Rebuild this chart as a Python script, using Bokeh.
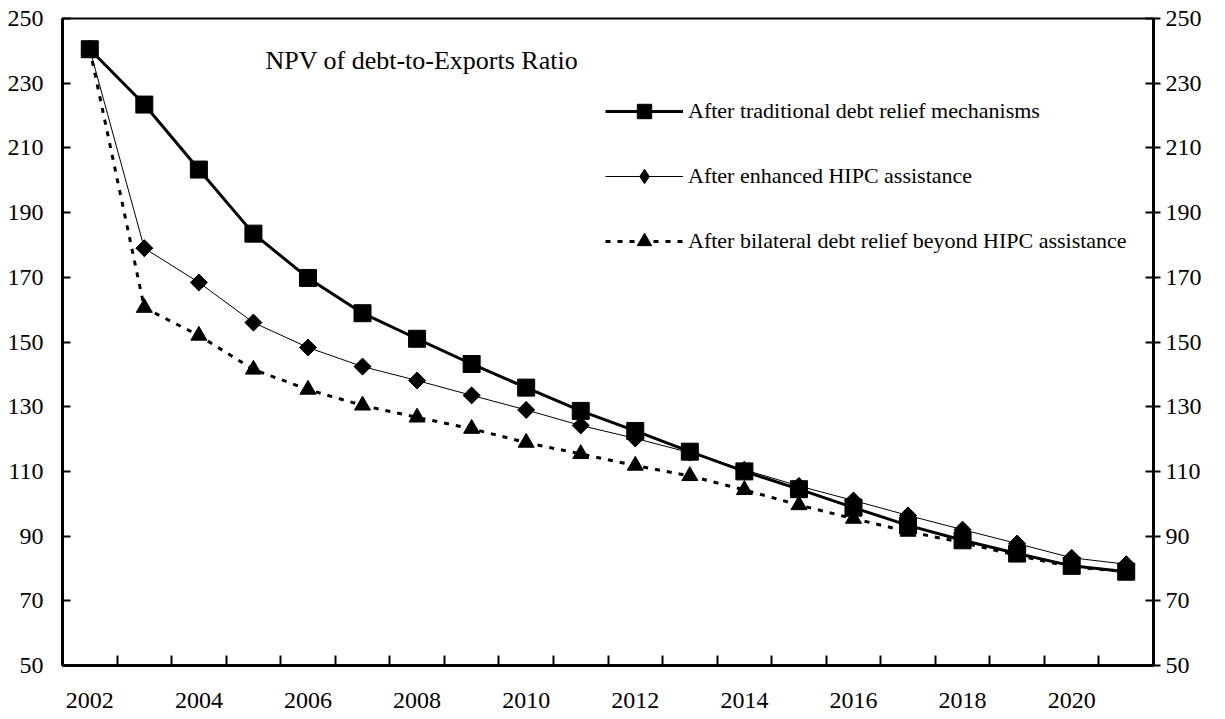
import math
from bokeh.plotting import figure
from bokeh.models import (Range1d, LinearAxis, FixedTicker, Legend, LegendItem,
                          Label, BasicTickFormatter)
from bokeh.embed import file_html
from bokeh.resources import INLINE

years = list(range(2002, 2022))
traditional = [240.5, 223.4, 203.3, 183.5, 169.8, 158.9, 151.0, 143.2, 135.9, 128.7,
               122.5, 116.1, 110.0, 104.5, 98.8, 93.3, 88.7, 84.6, 80.8, 79.0]
enhanced = [240.5, 179.0, 168.4, 156.0, 148.3, 142.4, 138.1, 133.5, 129.0, 124.2,
            120.2, 115.8, 110.5, 105.5, 101.0, 96.4, 92.0, 87.7, 83.3, 81.3]
bilateral = [240.5, 160.6, 152.0, 141.5, 135.3, 130.4, 126.7, 123.2, 118.9, 115.4,
             111.8, 108.6, 104.3, 99.6, 95.4, 91.4, 88.0, 84.0, 80.5, 79.0]

labels = ["After traditional debt relief mechanisms",
          "After enhanced HIPC assistance",
          "After bilateral debt relief beyond HIPC assistance"]
y_ticks = list(range(50, 251, 20))
x_label_years = list(range(2002, 2021, 2))
x_boundaries = [y + 0.5 for y in range(2002, 2021)]
chart_title = "NPV of debt-to-Exports Ratio"

FONT = "'Liberation Serif', 'Times New Roman', serif"

# frame spans page x 62..1153, y 18..665
p = figure(width=1225, height=719, output_backend="svg", toolbar_location=None,
           x_axis_type=None, y_axis_type=None,
           x_range=Range1d(2001.5, 2021.5), y_range=Range1d(50, 250),
           min_border_left=62, min_border_right=72, min_border_top=18,
           min_border_bottom=54)
p.extra_y_ranges = {"right": Range1d(50, 250)}
p.outline_line_color = "black"
p.outline_line_width = 2
p.background_fill_color = "white"
p.border_fill_color = "white"

# bottom axis
xa = LinearAxis(ticker=FixedTicker(ticks=x_label_years, minor_ticks=x_boundaries),
                formatter=BasicTickFormatter(use_scientific=False))
xa.axis_line_width = 3
xa.major_tick_in = 0
xa.major_tick_out = 0
xa.minor_tick_in = 10
xa.minor_tick_out = 0
xa.minor_tick_line_width = 2
xa.major_label_standoff = 27
xa.major_label_text_font = FONT
xa.major_label_text_font_size = "24px"
xa.major_label_text_color = "black"
p.add_layout(xa, "below")

# left axis
ya = LinearAxis(ticker=FixedTicker(ticks=y_ticks, minor_ticks=[]))
ya.axis_line_width = 3
ya.major_tick_in = 8
ya.major_tick_out = 0
ya.major_tick_line_width = 2
ya.minor_tick_line_color = None
ya.major_label_standoff = 19
ya.major_label_text_font = FONT
ya.major_label_text_font_size = "24px"
ya.major_label_text_color = "black"
p.add_layout(ya, "left")

# right axis
yr = LinearAxis(y_range_name="right", ticker=FixedTicker(ticks=y_ticks, minor_ticks=[]))
yr.axis_line_width = 3
yr.major_tick_in = 8
yr.major_tick_out = 7
yr.major_tick_line_width = 2
yr.minor_tick_line_color = None
yr.major_label_standoff = 5
yr.major_label_text_font = FONT
yr.major_label_text_font_size = "24px"
yr.major_label_text_color = "black"
p.add_layout(yr, "right")

# series
l1 = p.line(years, traditional, line_color="black", line_width=3)
m1 = p.scatter(years, traditional, marker="square", size=17, color="black")
l2 = p.line(years, enhanced, line_color="black", line_width=1)
# narrow diamond (used by the legend) hidden under the rotated square
m2_leg = p.scatter(years, enhanced, marker="diamond", size=16, color="black")
m2 = p.scatter(years, enhanced, marker="square", angle=math.pi / 4, size=12, color="black")
l3 = p.line(years, bilateral, line_color="black", line_width=3, line_dash="5 7")
m3 = p.scatter(years, bilateral, marker="triangle", size=16, color="black")

legend = Legend(items=[LegendItem(label=labels[0], renderers=[l1, m1]),
                       LegendItem(label=labels[1], renderers=[l2, m2_leg]),
                       LegendItem(label=labels[2], renderers=[l3, m3])],
                location=(543, 406))
legend.glyph_width = 78
legend.glyph_height = 36
legend.label_height = 36
legend.spacing = 29
legend.padding = 0
legend.margin = 0
legend.label_standoff = 5
legend.border_line_color = None
legend.background_fill_alpha = 0
legend.label_text_font = FONT
legend.label_text_font_size = "22px"
legend.label_text_color = "black"
p.add_layout(legend, "center")

p.add_layout(Label(x=2005.22, y=237.0, text=chart_title, text_font=FONT,
                   text_font_size="26px", text_color="black",
                   text_baseline="alphabetic", text_align="left"))

open("out.html", "w").write(file_html(p, INLINE))
